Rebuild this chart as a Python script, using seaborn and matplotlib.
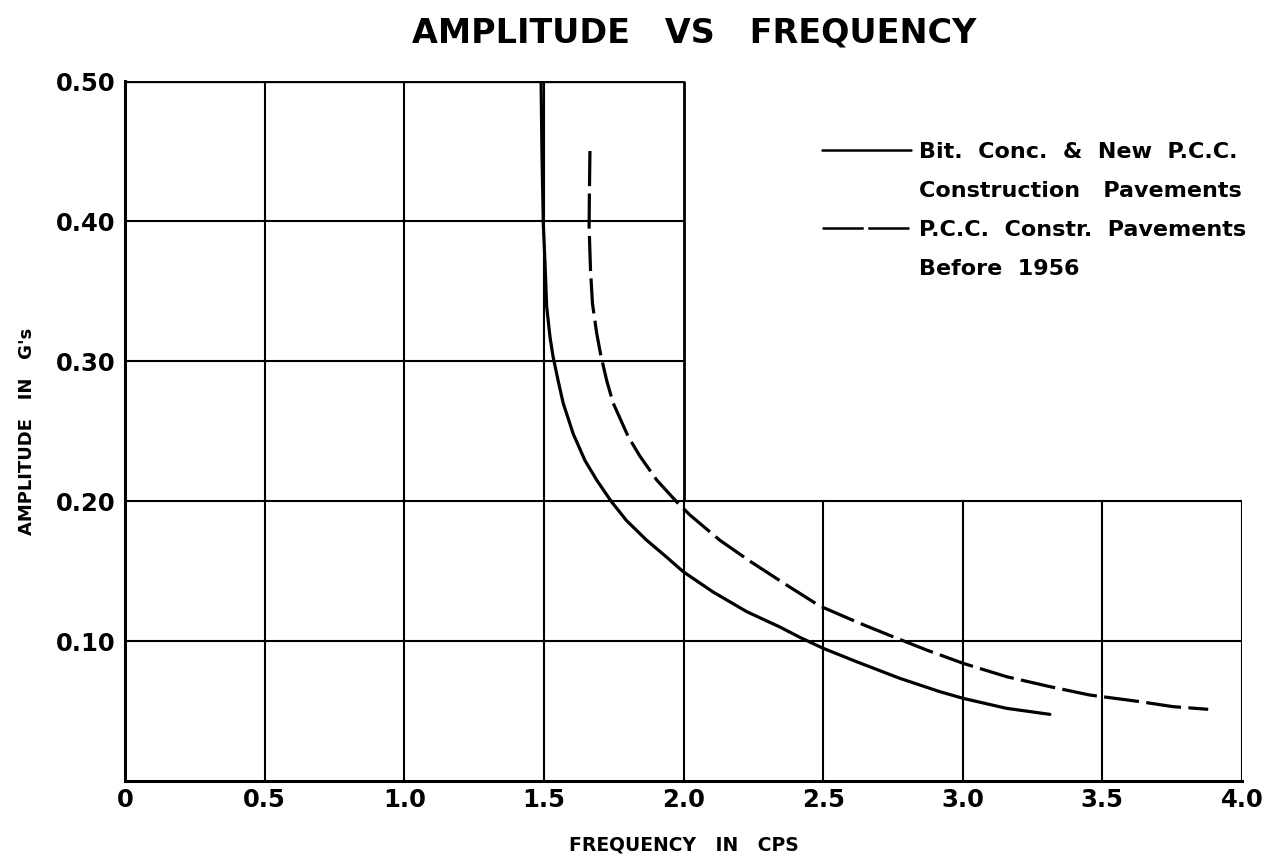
import numpy as np
import pandas as pd
import matplotlib
matplotlib.use("Agg")
import matplotlib.pyplot as plt
from matplotlib.lines import Line2D
import seaborn as sns

# ---- data ----
solid_freq = [1.490, 1.493, 1.498, 1.504, 1.510, 1.522, 1.533, 1.551, 1.569, 1.605,
              1.647, 1.689, 1.742, 1.796, 1.868, 1.939, 1.999, 2.106, 2.226, 2.345,
              2.417, 2.500, 2.620, 2.775, 2.918, 3.002, 3.157, 3.312]
solid_amp = [0.500, 0.450, 0.398, 0.370, 0.339, 0.317, 0.303, 0.286, 0.270, 0.248,
             0.229, 0.215, 0.1995, 0.186, 0.172, 0.160, 0.1495, 0.135, 0.121, 0.110,
             0.1026, 0.0948, 0.0852, 0.0733, 0.0638, 0.0590, 0.0519, 0.0476]
dashed_freq = [1.665, 1.663, 1.662, 1.667, 1.674, 1.689, 1.703, 1.725, 1.748, 1.802,
               1.844, 1.904, 1.975, 2.023, 2.130, 2.238, 2.369, 2.488, 2.632, 2.751,
               2.870, 3.002, 3.157, 3.312, 3.455, 3.634, 3.753, 3.879]
dashed_amp = [0.450, 0.420, 0.396, 0.365, 0.341, 0.320, 0.305, 0.286, 0.270, 0.246,
              0.232, 0.215, 0.1995, 0.190, 0.172, 0.157, 0.140, 0.125, 0.1126, 0.103,
              0.0936, 0.0840, 0.0745, 0.0674, 0.0614, 0.0567, 0.0531, 0.0512]
legend_lines = [["Bit.  Conc.  &  New  P.C.C.", "Construction   Pavements"],
                ["P.C.C.  Constr.  Pavements", "Before  1956"]]

x_ticks = [0, 0.5, 1.0, 1.5, 2.0, 2.5, 3.0, 3.5, 4.0]
x_tick_labels = ["0", "0.5", "1.0", "1.5", "2.0", "2.5", "3.0", "3.5", "4.0"]
y_ticks = [0.10, 0.20, 0.30, 0.40, 0.50]
y_tick_labels = ["0.10", "0.20", "0.30", "0.40", "0.50"]

# stepped grid: upper block only up to 2.0 cps
grid_full_h = [0.10, 0.20]           # full width
grid_upper_h = [0.30, 0.40]          # up to 2.0
grid_upper_v = [0.5, 1.0, 1.5]       # full height
grid_lower_v = [2.5, 3.0, 3.5, 4.0]  # up to 0.2
step_x = 2.0
step_y = 0.20

title = "AMPLITUDE   VS   FREQUENCY"
xlabel = "FREQUENCY   IN   CPS"
ylabel = "AMPLITUDE   IN   G's"

sns.set_style("white")
plt.rcParams['font.family'] = ['DejaVu Sans']
for k in ["text.color", "axes.labelcolor", "xtick.color", "ytick.color"]:
    plt.rcParams[k] = "black"

fig = plt.figure(figsize=(12.76, 8.63), dpi=100)
ax = fig.add_axes([125/1276, 1-781/863, (1242-125)/1276, (781-81)/863])

df1 = pd.DataFrame({"freq": solid_freq, "amp": solid_amp})
df2 = pd.DataFrame({"freq": dashed_freq, "amp": dashed_amp})
sns.lineplot(data=df1, x="freq", y="amp", sort=False, estimator=None, ax=ax,
             color="black", lw=2.3)
sns.lineplot(data=df2, x="freq", y="amp", sort=False, estimator=None, ax=ax,
             color="black", lw=2.3)
ax.lines[1].set_dashes([11, 2.3])

gkw = dict(color="black", lw=1.5, zorder=1)
ax.hlines(grid_full_h, 0, 4.0, **gkw)
ax.hlines(grid_upper_h, 0, step_x, **gkw)
ax.vlines(grid_upper_v, 0, 0.5, **gkw)
ax.vlines(grid_lower_v, 0, step_y, **gkw)
ax.vlines([step_x], 0, step_y, **gkw)
ax.hlines([0.5], 0, step_x, color="black", lw=2.4, zorder=1)
ax.vlines([step_x], step_y, 0.5, color="black", lw=2.0, zorder=1)

ax.set_xlim(0, 4.0)
ax.set_ylim(0, 0.5)
for s in ["top", "right"]:
    ax.spines[s].set_visible(False)
for s in ["left", "bottom"]:
    ax.spines[s].set_linewidth(2.2)
    ax.spines[s].set_color("black")

ax.set_xticks(x_ticks)
ax.set_xticklabels(x_tick_labels)
ax.set_yticks(y_ticks)
ax.set_yticklabels(y_tick_labels)
ax.tick_params(length=0, labelsize=17.5)
ax.tick_params(axis="x", pad=5)
ax.tick_params(axis="y", pad=7)
for t in ax.get_xticklabels() + ax.get_yticklabels():
    t.set_fontweight("bold")

ax.set_xlabel(xlabel, fontsize=13.5, fontweight="bold", labelpad=17)
ax.set_ylabel(ylabel, fontsize=13, fontweight="bold", labelpad=14)
fig.suptitle(title, fontsize=24, fontweight="bold", x=694/1276, y=1-33/863, va="center")

blank = Line2D([], [], color="none")
h1 = Line2D([], [], color="black", lw=1.8)
h2 = Line2D([], [], color="black", lw=1.8, dashes=[16.5, 1.8])
handles = [h1, blank, h2, blank]
labels = [legend_lines[0][0], legend_lines[0][1], legend_lines[1][0], legend_lines[1][1]]
leg = ax.legend(handles, labels, loc="upper left", bbox_to_anchor=(0.624, 0.913),
                frameon=False, borderpad=0, borderaxespad=0,
                handlelength=4.0, handletextpad=0.36, labelspacing=0.85,
                prop={"weight": "bold", "size": 16})

fig.savefig("out.png", dpi=100)
